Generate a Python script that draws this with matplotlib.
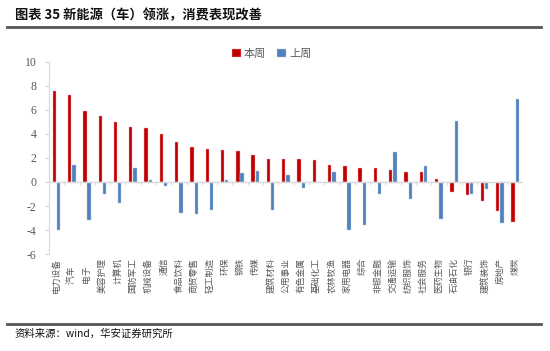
import matplotlib.pyplot as plt
import numpy as np

plt.rcParams['font.family'] = ['Noto Sans CJK SC', 'DejaVu Sans']

categories = ["电力设备", "汽车　", "电子　", "美容护理", "计算机", "国防军工", "机械设备", "通信",
              "食品饮料", "商贸零售", "轻工制造", "环保", "钢铁", "传媒", "建筑材料", "公用事业",
              "有色金属", "基础化工", "农林牧渔", "家用电器", "综合", "非银金融", "交通运输",
              "纺织服饰", "社会服务", "医药生物", "石油石化", "银行", "建筑装饰", "房地产", "煤炭"]
this_week = [7.57, 7.27, 5.88, 5.50, 4.97, 4.56, 4.45, 4.03, 3.29, 2.90, 2.73, 2.68, 2.60,
             2.24, 1.93, 1.91, 1.88, 1.80, 1.38, 1.30, 1.16, 1.13, 0.97, 0.86, 0.83, 0.22,
             -0.86, -1.08, -1.60, -2.38, -3.34]
last_week = [-3.98, 1.44, -3.20, -0.97, -1.74, 1.16, 0.19, -0.33, -2.57, -2.65, -2.32, 0.19,
             0.75, 0.94, -2.32, 0.58, -0.47, 0.0, 0.83, -3.98, -3.59, -0.99, 2.49, -1.44,
             1.35, -3.04, 5.08, -0.97, -0.61, -3.40, 6.88]
yticks = [-6, -4, -2, 0, 2, 4, 6, 8, 10]

red = "#C00000"
blue = "#4F81BD"
gray = "#595959"

fig = plt.figure(figsize=(5.5, 3.51), dpi=100)
ax = fig.add_axes([0.089, 0.276, 0.862, 0.548])

x = np.arange(len(categories))
w = 0.22
ax.bar(x - 0.15, this_week, w, color=red, edgecolor="#f3b0b0", linewidth=0.3, label="本周")
ax.bar(x + 0.13, last_week, w, color=blue, edgecolor="#b8cde6", linewidth=0.3, label="上周")

ax.set_xlim(-0.5, len(categories) - 0.5)
ax.set_ylim(-6, 10)
ax.set_yticks(yticks)
ax.set_yticklabels([str(v) for v in yticks], family="Liberation Serif", fontsize=8.5, color=gray)
ax.tick_params(axis="y", length=3, color="#d9d9d9", pad=6)
ax.set_xticks([])
for s in ["top", "right", "bottom"]:
    ax.spines[s].set_visible(False)
ax.spines["left"].set_color("#d9d9d9")
ax.axhline(0, color="#d9d9d9", linewidth=1)
# little separators under the zero line
for b in np.arange(0.5, len(categories) - 0.5, 1):
    ax.plot([b, b], [0, -0.2], color="#d9d9d9", linewidth=0.8)

# rotated category labels, end of text at the top
for i, c in enumerate(categories):
    ax.text(i, -6.3, c, ha="center", va="top", rotation=90, rotation_mode="default",
            fontsize=6.3, color=gray)

ax.legend(loc="upper center", bbox_to_anchor=(0.47, 1.12), ncol=2, frameon=False,
          fontsize=8, handlelength=0.8, handleheight=0.8, handletextpad=0.3,
          columnspacing=1.0, labelcolor=gray)

fig.text(0.027, 0.957, "图表 35 新能源（车）领涨，消费表现改善", fontsize=9.5,
         fontweight="bold", va="center", color="#111111")
fig.add_artist(plt.Line2D([0.013, 0.984], [0.924, 0.924], color="#555555", linewidth=2))
fig.add_artist(plt.Line2D([0.013, 0.984], [0.078, 0.078], color="#555555", linewidth=2))
fig.text(0.027, 0.05, "资料来源：wind，华安证券研究所", fontsize=7.5, va="center", color="#111111")

fig.savefig("out.png", dpi=100)
